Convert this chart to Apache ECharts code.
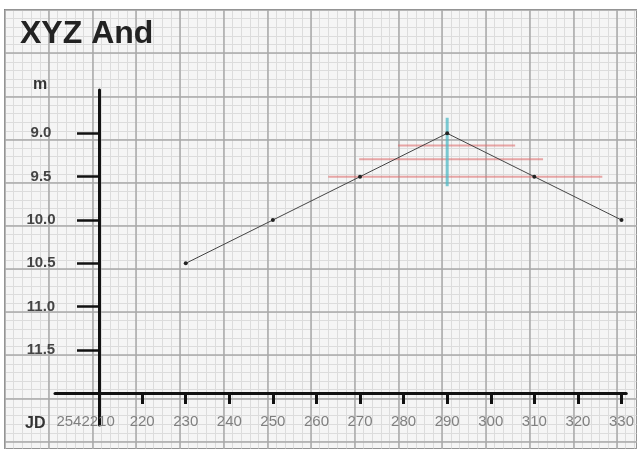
<!DOCTYPE html>
<html><head><meta charset="utf-8">
<script src="https://cdn.jsdelivr.net/npm/echarts@6/dist/echarts.min.js"></script>
<style>html,body{margin:0;padding:0;background:#fff}#c{width:637px;height:449px}</style>
</head><body><div id="c"></div>
<script>
// ---- data ----
const titleText = 'XYZ And';
const jd  = [230, 250, 270, 290, 310, 330];
const mag = [10.5, 10.0, 9.5, 9.0, 9.5, 10.0];
const redLevel = [9.14, 9.30, 9.50];
const redFrom  = [278.7, 269.8, 262.7];
const redTo    = [305.6, 312.0, 325.6];
const cyanJd = [290, 290];
const cyanMag = [8.82, 9.61];
const xTickValues  = [220, 230, 240, 250, 260, 270, 280, 290, 300, 310, 320, 330];
const xLabelValues = [210, 220, 230, 240, 250, 260, 270, 280, 290, 300, 310, 320, 330];
const firstXLabel = '2542210';
const yTickValues = [9.0, 9.5, 10.0, 10.5, 11.0, 11.5];

const FONT = '"Liberation Sans", Arial, sans-serif';
const series = [];
series.push({
  type: 'line', xAxisIndex: 2, yAxisIndex: 2, z: 5,
  data: jd.map((x, i) => [x, mag[i]]),
  symbol: 'circle', symbolSize: 4,
  lineStyle: { color: '#444', width: 1 },
  itemStyle: { color: '#222' }
});
redLevel.forEach((lv, i) => {
  series.push({
    type: 'line', xAxisIndex: 2, yAxisIndex: 2, z: 3, symbol: 'none',
    data: [[redFrom[i], lv], [redTo[i], lv]],
    lineStyle: { color: '#dd7070', width: 2, opacity: 0.6 }
  });
});
series.push({
  type: 'line', xAxisIndex: 2, yAxisIndex: 2, z: 4, symbol: 'none',
  data: cyanJd.map((x, i) => [x, cyanMag[i]]),
  lineStyle: { color: '#4fb8c4', width: 3, opacity: 0.75 }
});

const hidden = { axisLine: { show: false }, axisTick: { show: false }, axisLabel: { show: false } };
const option = {
  animation: false,
  backgroundColor: '#ffffff',
  title: { text: titleText, left: 15, top: 13, z: 20,
    textStyle: { fontFamily: FONT, fontSize: 32, fontWeight: 'bold', color: '#222' } },
  graphic: [
    { type: 'text', left: 33, top: 77, z: 100, style: { text: 'm', font: 'bold 16px ' + FONT, fill: '#333' } },
    { type: 'text', left: 25, top: 416, z: 100, style: { text: 'JD', font: 'bold 16px ' + FONT, fill: '#333' } }
  ],
  grid: [
    { left: 5, top: 10, right: -2, bottom: -2, show: true, backgroundColor: '#f5f5f5',
      borderColor: '#222', borderWidth: 1.5 },
    { left: 55, top: 90, right: 7, bottom: 24 }
  ],
  xAxis: [
    Object.assign({ type: 'value', gridIndex: 0, min: 188.6, max: 333.18, interval: 10, z: 2,
      splitLine: { show: true, lineStyle: { color: '#a8a8a8', width: 1.5 } } }, hidden),
    Object.assign({ type: 'value', gridIndex: 0, position: 'top', min: 188.6, max: 333.18, interval: 2, z: 1,
      splitLine: { show: true, lineStyle: { color: '#dcdcdc', width: 1 } } }, hidden),
    { type: 'value', gridIndex: 1, min: 200, max: 331.1, offset: -32, z: 6,
      splitLine: { show: false },
      axisLine: { show: true, lineStyle: { color: '#111', width: 3 } },
      axisTick: { show: true, customValues: xTickValues, length: 11, lineStyle: { color: '#111', width: 3 } },
      axisLabel: { show: true, customValues: xLabelValues, margin: 21, fontFamily: FONT, fontSize: 15, color: '#808080',
        formatter: v => v === xLabelValues[0] ? '{a|' + firstXLabel + '}' : String(v),
        rich: { a: { fontFamily: FONT, fontSize: 15, color: '#808080', padding: [0, 26, 0, 0] } } }
    }
  ],
  yAxis: [
    Object.assign({ type: 'value', gridIndex: 0, inverse: true, min: 7.577, max: 12.665, interval: 0.5, z: 2,
      splitLine: { show: true, lineStyle: { color: '#a8a8a8', width: 1.5 } } }, hidden),
    Object.assign({ type: 'value', gridIndex: 0, position: 'right', inverse: true, min: 7.577, max: 12.665, interval: 0.1, z: 1,
      splitLine: { show: true, lineStyle: { color: '#dcdcdc', width: 1 } } }, hidden),
    { type: 'value', gridIndex: 1, inverse: true, min: 8.5, max: 12.365, offset: -44, z: 6,
      splitLine: { show: false },
      axisLine: { show: true, lineStyle: { color: '#111', width: 3 } },
      axisTick: { show: true, customValues: yTickValues, length: 22, lineStyle: { color: '#111', width: 2.5 } },
      axisLabel: { show: true, customValues: yTickValues, margin: 58, align: 'center', fontFamily: FONT,
        fontSize: 15, fontWeight: 'bold', color: '#444', formatter: v => v.toFixed(1) }
    }
  ],
  series: series
};
const chart = echarts.init(document.getElementById('c'), null, { renderer: 'canvas' });
chart.setOption(option);
</script></body></html>
